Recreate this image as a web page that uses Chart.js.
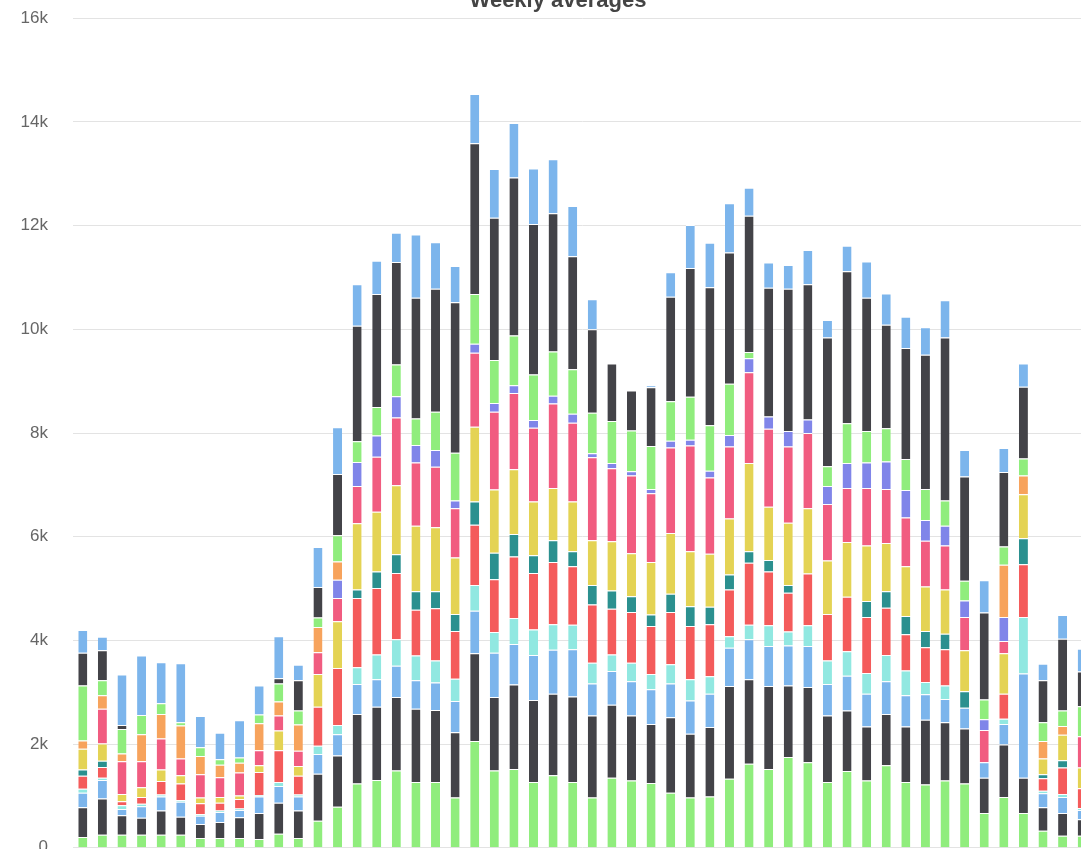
<!DOCTYPE html>
<html>
<head>
<meta charset="utf-8">
<title>Weekly averages</title>
<script src="https://cdn.jsdelivr.net/npm/chart.js@4/dist/chart.umd.min.js"></script>
<style>
    html, body { margin: 0; padding: 0; background: #fff; overflow: hidden; }
    #wrap { position: absolute; left: 0; top: -17px; width: 1100px; height: 900px; }
</style>
</head>
<body>
<div id="wrap"><canvas id="weeklyChart"></canvas></div>
<script>
var weeks = ['1', '2', '3', '4', '5', '6', '7', '8', '9', '10', '11', '12', '13',
    '14', '15', '16', '17', '18', '19', '20', '21', '22', '23', '24', '25', '26',
    '27', '28', '29', '30', '31', '32', '33', '34', '35', '36', '37', '38', '39',
    '40', '41', '42', '43', '44', '45', '46', '47', '48', '49', '50', '51', '52'];

// stack order: first array is the bottom of every column
var greenLow = [210, 250, 250, 250, 250, 250, 190, 190, 190, 170, 270, 190, 520, 790, 1240, 1310, 1490, 1270, 1270, 970, 2060, 1490, 1520, 1270, 1400, 1270, 970, 1350, 1300, 1250, 1060, 970, 990, 1330, 1620, 1520, 1750, 1650, 1270, 1480, 1300, 1590, 1270, 1220, 1300, 1240, 670, 980, 670, 330, 230, 230];
var blackLow = [570, 700, 380, 330, 470, 350, 270, 310, 400, 500, 600, 530, 910, 990, 1340, 1410, 1420, 1410, 1390, 1260, 1690, 1420, 1630, 1580, 1570, 1650, 1580, 1410, 1250, 1140, 1460, 1230, 1340, 1790, 1630, 1600, 1380, 1450, 1280, 1170, 1040, 990, 1070, 1250, 1120, 1060, 680, 1010, 680, 450, 440, 320];
var blueLow = [280, 360, 120, 220, 270, 290, 160, 190, 140, 320, 320, 270, 380, 410, 580, 530, 600, 550, 530, 600, 820, 850, 780, 870, 850, 910, 620, 650, 660, 670, 650, 640, 640, 740, 770, 770, 770, 790, 610, 670, 630, 630, 600, 490, 450, 400, 300, 400, 2010, 270, 310, 180];
var cyan = [80, 40, 70, 50, 40, 30, 30, 30, 30, 30, 80, 40, 160, 180, 320, 480, 510, 480, 420, 430, 500, 400, 500, 490, 490, 470, 400, 320, 360, 290, 370, 410, 340, 220, 280, 400, 270, 400, 450, 470, 400, 510, 480, 240, 260, 0, 0, 100, 1090, 50, 60, 40];
var red = [250, 210, 80, 130, 260, 320, 210, 150, 180, 440, 610, 360, 750, 1100, 1340, 1280, 1280, 880, 1010, 920, 1160, 1020, 1190, 1090, 1200, 1130, 1120, 880, 980, 930, 1010, 1030, 1000, 900, 1200, 1040, 750, 1000, 900, 1050, 1080, 910, 700, 670, 700, 0, 0, 480, 1020, 240, 510, 380];
var teal = [120, 120, 0, 0, 0, 0, 0, 0, 0, 0, 0, 0, 0, 0, 160, 320, 360, 360, 330, 330, 450, 510, 430, 340, 420, 290, 380, 350, 300, 220, 350, 380, 340, 290, 220, 220, 150, 0, 0, 0, 310, 320, 350, 310, 300, 320, 0, 0, 500, 80, 140, 0];
var yellow = [400, 330, 140, 190, 220, 160, 110, 110, 70, 130, 380, 190, 630, 900, 1280, 1150, 1330, 1260, 1230, 1090, 1440, 1220, 1250, 1040, 1010, 960, 860, 950, 830, 1010, 1170, 1060, 1020, 1080, 1700, 1030, 1200, 1260, 1030, 1060, 1070, 930, 960, 860, 850, 790, 0, 780, 850, 300, 490, 400];
var pink = [0, 670, 630, 500, 600, 320, 450, 380, 440, 290, 290, 290, 420, 450, 720, 1060, 1310, 1220, 1170, 950, 1430, 1500, 1470, 1420, 1630, 1520, 1600, 1410, 1500, 1330, 1650, 2040, 1470, 1390, 1750, 1500, 1470, 1450, 1090, 1040, 1110, 1040, 940, 880, 850, 640, 620, 240, 0, 0, 0, 600];
var purple = [0, 0, 0, 0, 0, 0, 0, 0, 0, 0, 0, 0, 0, 350, 460, 410, 410, 340, 320, 150, 170, 170, 150, 150, 150, 170, 80, 100, 80, 80, 130, 110, 130, 220, 270, 240, 300, 260, 350, 480, 490, 530, 530, 400, 380, 320, 210, 460, 0, 0, 0, 0];
var orange = [160, 260, 150, 520, 470, 640, 350, 240, 190, 520, 270, 510, 490, 350, 0, 0, 0, 0, 0, 0, 0, 0, 0, 0, 0, 0, 0, 0, 0, 0, 0, 0, 0, 0, 0, 0, 0, 0, 0, 0, 0, 0, 0, 0, 0, 0, 0, 1010, 360, 340, 170, 0];
var greenHigh = [1060, 290, 470, 370, 210, 60, 170, 110, 100, 170, 350, 270, 180, 510, 400, 550, 610, 510, 740, 920, 960, 830, 960, 880, 850, 860, 780, 810, 790, 830, 760, 830, 880, 990, 120, 0, 0, 0, 380, 770, 610, 640, 600, 600, 490, 380, 380, 350, 330, 360, 300, 580];
var blackHigh = [630, 580, 80, 0, 0, 0, 0, 0, 0, 0, 100, 580, 590, 1180, 2230, 2180, 1980, 2330, 2370, 2900, 2910, 2740, 3050, 2900, 2670, 2180, 1610, 1110, 770, 1130, 2020, 2480, 2660, 2530, 2630, 2480, 2740, 2610, 2480, 2930, 2570, 2000, 2140, 2590, 3140, 2010, 1680, 1440, 1380, 810, 1380, 670];
var blueHigh = [440, 260, 970, 1150, 790, 1140, 600, 510, 720, 560, 810, 300, 770, 900, 800, 640, 560, 1220, 900, 700, 950, 940, 1050, 1070, 1040, 970, 580, 0, 0, 40, 470, 830, 860, 950, 540, 490, 460, 660, 340, 490, 700, 600, 600, 530, 720, 510, 620, 460, 450, 320, 460, 440];

var yTicks = [0, 2000, 4000, 6000, 8000, 10000, 12000, 14000, 16000];

function series(name, values, color) {
    return {
        label: name,
        data: values,
        backgroundColor: color,
        borderColor: '#ffffff',
        borderWidth: { top: 1, right: 0, bottom: 0, left: 0 },
        borderSkipped: 'start',
        categoryPercentage: 0.46,
        barPercentage: 1
    };
}

Chart.defaults.font.family = '"Liberation Sans", Arial, Helvetica, sans-serif';

var ctx = document.getElementById('weeklyChart');
var weeklyChart = new Chart(ctx, {
    type: 'bar',
    data: {
        labels: weeks,
        datasets: [
            series('Series 13', greenLow, '#90ed7d'),
            series('Series 12', blackLow, '#434348'),
            series('Series 11', blueLow, '#7cb5ec'),
            series('Series 10', cyan, '#91e8e1'),
            series('Series 9', red, '#f45b5b'),
            series('Series 8', teal, '#2b908f'),
            series('Series 7', yellow, '#e4d354'),
            series('Series 6', pink, '#f15c80'),
            series('Series 5', purple, '#8085e9'),
            series('Series 4', orange, '#f7a35c'),
            series('Series 3', greenHigh, '#90ed7d'),
            series('Series 2', blackHigh, '#434348'),
            series('Series 1', blueHigh, '#7cb5ec')
        ]
    },
    options: {
        responsive: true,
        maintainAspectRatio: false,
        animation: false,
        layout: { padding: { left: 24, right: 8, top: 0, bottom: 32 } },
        plugins: {
            legend: { display: false },
            tooltip: { enabled: false },
            title: {
                display: true,
                text: 'Weekly averages',
                color: '#444',
                font: { size: 22, weight: 'bold' },
                padding: { top: 4, bottom: 4 }
            }
        },
        scales: {
            x: {
                stacked: true,
                display: false
            },
            y: {
                stacked: true,
                min: 0,
                max: 16000,
                border: { display: false },
                grid: { color: '#e3e3e3', lineWidth: 1, drawTicks: false },
                afterBuildTicks: function (scale) {
                    scale.ticks = yTicks.map(function (v) { return { value: v }; });
                },
                afterFit: function (scale) {
                    scale.width = 49;
                    // labels reach a little past the padded left edge, do not clip them
                    scale._computeLabelArea = function () { return undefined; };
                },
                ticks: {
                    color: '#666',
                    font: { size: 17 },
                    padding: 25,
                    callback: function (v) {
                        return v === 0 ? '0' : (v / 1000) + 'k';
                    }
                }
            }
        }
    }
});
</script>
</body>
</html>
